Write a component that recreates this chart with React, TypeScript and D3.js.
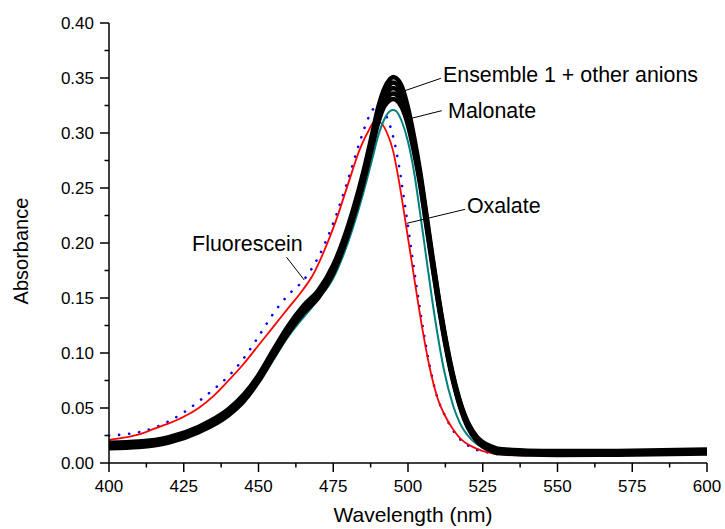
import React from "react";
import * as d3 from "d3";

// ---------- data ----------
const xTickValues = [400, 425, 450, 475, 500, 525, 550, 575, 600];
const yTickValues = [0, 0.05, 0.1, 0.15, 0.2, 0.25, 0.3, 0.35, 0.4];

// Ensemble 1 + other anions (several overlapping black spectra)
const wlBlack = [400, 410, 420, 430, 440, 445, 450, 455, 460, 465, 470, 475, 480, 485, 488, 490, 492, 494, 495, 496, 498, 500, 502, 504, 506, 508, 510, 512, 515, 518, 520, 523, 525, 528, 530, 535, 540, 550, 570, 600];
const ensembleA = [0.0185, 0.0195, 0.0235, 0.033, 0.049, 0.062, 0.08, 0.103, 0.125, 0.143, 0.157, 0.18, 0.216, 0.264, 0.299, 0.323, 0.34, 0.349, 0.351, 0.35, 0.342, 0.323, 0.297, 0.266, 0.229, 0.191, 0.155, 0.122, 0.081, 0.051, 0.037, 0.024, 0.019, 0.015, 0.013, 0.0118, 0.0112, 0.0108, 0.011, 0.0122];
const ensembleB = [0.0173, 0.0183, 0.0223, 0.0318, 0.0476, 0.0605, 0.0785, 0.1014, 0.1233, 0.1413, 0.1553, 0.1781, 0.214, 0.2615, 0.296, 0.3195, 0.336, 0.3443, 0.346, 0.345, 0.3373, 0.319, 0.2935, 0.263, 0.2263, 0.1888, 0.153, 0.1203, 0.0795, 0.0498, 0.0359, 0.023, 0.018, 0.014, 0.012, 0.0109, 0.0103, 0.0099, 0.0101, 0.0113];
const ensembleC = [0.016, 0.017, 0.021, 0.0305, 0.0463, 0.059, 0.077, 0.0998, 0.1215, 0.1395, 0.1535, 0.1763, 0.212, 0.259, 0.293, 0.316, 0.332, 0.3395, 0.341, 0.34, 0.3325, 0.315, 0.29, 0.26, 0.2235, 0.1865, 0.151, 0.1185, 0.078, 0.0485, 0.0348, 0.022, 0.017, 0.013, 0.011, 0.0101, 0.0095, 0.0091, 0.0093, 0.0105];
const ensembleD = [0.0148, 0.0158, 0.0198, 0.0293, 0.0449, 0.0575, 0.0755, 0.0981, 0.1198, 0.1378, 0.1518, 0.1744, 0.21, 0.2565, 0.29, 0.3125, 0.328, 0.3348, 0.336, 0.335, 0.3278, 0.311, 0.2865, 0.257, 0.2208, 0.1843, 0.149, 0.1168, 0.0765, 0.0473, 0.0336, 0.021, 0.016, 0.012, 0.01, 0.0092, 0.0086, 0.0082, 0.0084, 0.0096];
const ensembleE = [0.0135, 0.0145, 0.0185, 0.028, 0.0435, 0.056, 0.074, 0.0965, 0.118, 0.136, 0.15, 0.1725, 0.208, 0.254, 0.287, 0.309, 0.324, 0.33, 0.331, 0.33, 0.323, 0.307, 0.283, 0.254, 0.218, 0.182, 0.147, 0.115, 0.075, 0.046, 0.0325, 0.02, 0.015, 0.011, 0.009, 0.0083, 0.0077, 0.0073, 0.0075, 0.0087];

// Malonate (teal)
const wlMalonate = [400, 420, 440, 450, 460, 470, 475, 480, 485, 488, 490, 492, 494, 495, 496, 498, 500, 502, 504, 506, 508, 510, 512, 515, 518, 520, 525, 530, 540, 600];
const malonate = [0.0155, 0.02, 0.045, 0.073, 0.115, 0.149, 0.168, 0.201, 0.245, 0.276, 0.297, 0.312, 0.32, 0.321, 0.32, 0.31, 0.292, 0.265, 0.228, 0.189, 0.15, 0.115, 0.085, 0.053, 0.033, 0.025, 0.014, 0.011, 0.01, 0.01];

// Oxalate (red)
const wlOxalate = [400, 405, 410, 415, 420, 425, 430, 435, 440, 445, 450, 455, 460, 465, 468, 472, 476, 480, 484, 487, 489, 491, 493, 495, 497, 499, 501, 503, 505, 507, 510, 512, 515, 518, 520, 523, 526, 530, 535, 540];
const oxalate = [0.021, 0.023, 0.026, 0.031, 0.036, 0.042, 0.05, 0.061, 0.075, 0.09, 0.107, 0.124, 0.141, 0.158, 0.17, 0.193, 0.221, 0.254, 0.286, 0.303, 0.311, 0.309, 0.3, 0.284, 0.256, 0.222, 0.187, 0.152, 0.119, 0.09, 0.058, 0.045, 0.031, 0.021, 0.017, 0.013, 0.01, 0.008, 0.007, 0.007];

// Fluorescein (blue dotted)
const wlFluorescein = [400, 405, 410, 415, 420, 425, 430, 435, 440, 445, 450, 455, 460, 465, 470, 475, 480, 484, 487, 489, 491, 493, 495, 497, 499, 501, 503, 505, 507, 510, 512, 515, 518, 520, 523, 526, 530];
const fluorescein = [0.025, 0.026, 0.028, 0.032, 0.038, 0.046, 0.056, 0.067, 0.079, 0.095, 0.115, 0.136, 0.153, 0.166, 0.187, 0.218, 0.258, 0.293, 0.315, 0.323, 0.323, 0.314, 0.297, 0.27, 0.234, 0.196, 0.158, 0.123, 0.092, 0.058, 0.045, 0.03, 0.02, 0.016, 0.012, 0.01, 0.008];

// annotations: label, text anchor (wl, abs), leader line from -> to
const annoLabels = ["Ensemble 1 + other anions", "Malonate", "Oxalate", "Fluorescein"];
const annoText = [[511.7, 0.3464], [513.4, 0.3136], [519.7, 0.2273], [427.8, 0.1923]];
const annoLine = [
  [[511.0, 0.3497], [499.0, 0.3385]],
  [[511.3, 0.3203], [501.2, 0.3134]],
  [[519.1, 0.2306], [499.6, 0.2179]],
  [[459.4, 0.187], [465.3, 0.1664]],
];

// ---------- layout ----------
const W = 725;
const H = 529;
const X0 = 109;
const X1 = 707;
const Y0 = 463;
const Y1 = 23;
const FONT = "'Liberation Sans', Arial, Helvetica, sans-serif";

export default function App() {
  const x = d3.scaleLinear().domain([400, 600]).range([X0, X1]);
  const y = d3.scaleLinear().domain([0, 0.4]).range([Y0, Y1]);

  const mkLine = (wl: number[], vals: number[]) =>
    d3
      .line<number>()
      .x((_, i) => x(wl[i]))
      .y((v) => y(v))
      .curve(d3.curveMonotoneX)(vals) || "";

  const xMinor = d3.range(400, 600.01, 12.5);
  const yMinor = d3.range(0, 0.4001, 0.025);

  const blacks = [ensembleE, ensembleD, ensembleC, ensembleB, ensembleA];

  return (
    <svg
      width={W}
      height={H}
      style={{ position: "absolute", left: 0, top: 0, background: "#fff" }}
      fontFamily={FONT}
    >
      <rect x={0} y={0} width={W} height={H} fill="#fff" />

      {/* series */}
      <path d={mkLine(wlFluorescein, fluorescein)} fill="none" stroke="#0000ff" strokeWidth={2.6} strokeLinecap="round" strokeDasharray="0.1 10" />
      <path d={mkLine(wlOxalate, oxalate)} fill="none" stroke="#ff0000" strokeWidth={1.8} />
      <path d={mkLine(wlMalonate, malonate)} fill="none" stroke="#008080" strokeWidth={2} />
      {blacks.map((s, i) => (
        <path key={i} d={mkLine(wlBlack, s)} fill="none" stroke="#000" strokeWidth={4.5} />
      ))}

      {/* axes */}
      <line x1={X0} y1={Y0} x2={X1} y2={Y0} stroke="#000" strokeWidth={1.5} />
      <line x1={X0} y1={Y0} x2={X0} y2={Y1} stroke="#000" strokeWidth={1.5} />
      {xMinor.map((t) => {
        const major = Math.abs((t - 400) % 25) < 1e-6;
        return <line key={"xm" + t} x1={x(t)} x2={x(t)} y1={Y0} y2={Y0 + (major ? 9 : 4.5)} stroke="#000" strokeWidth={1.5} />;
      })}
      {yMinor.map((t, i) => {
        const major = i % 2 === 0;
        return <line key={"ym" + i} x1={X0} x2={X0 - (major ? 9 : 4.5)} y1={y(t)} y2={y(t)} stroke="#000" strokeWidth={1.5} />;
      })}
      {xTickValues.map((t) => (
        <text key={"xt" + t} x={x(t)} y={Y0 + 29} fontSize={17} textAnchor="middle" fill="#000">
          {t}
        </text>
      ))}
      {yTickValues.map((t) => (
        <text key={"yt" + t} x={X0 - 15} y={y(t) + 6} fontSize={17} textAnchor="end" fill="#000">
          {d3.format(".2f")(t)}
        </text>
      ))}
      <text x={(X0 + X1) / 2 + 5} y={522} fontSize={21} textAnchor="middle" fill="#000">
        Wavelength (nm)
      </text>
      <text transform={`translate(28, ${(Y0 + Y1) / 2 + 8}) rotate(-90)`} fontSize={20} textAnchor="middle" fill="#000">
        Absorbance
      </text>

      {/* annotations */}
      {annoLabels.map((lab, i) => (
        <g key={"a" + i}>
          <line
            x1={x(annoLine[i][0][0])}
            y1={y(annoLine[i][0][1])}
            x2={x(annoLine[i][1][0])}
            y2={y(annoLine[i][1][1])}
            stroke="#000"
            strokeWidth={1}
          />
          <text x={x(annoText[i][0])} y={y(annoText[i][1])} fontSize={21.4} fill="#000">
            {lab}
          </text>
        </g>
      ))}
    </svg>
  );
}
